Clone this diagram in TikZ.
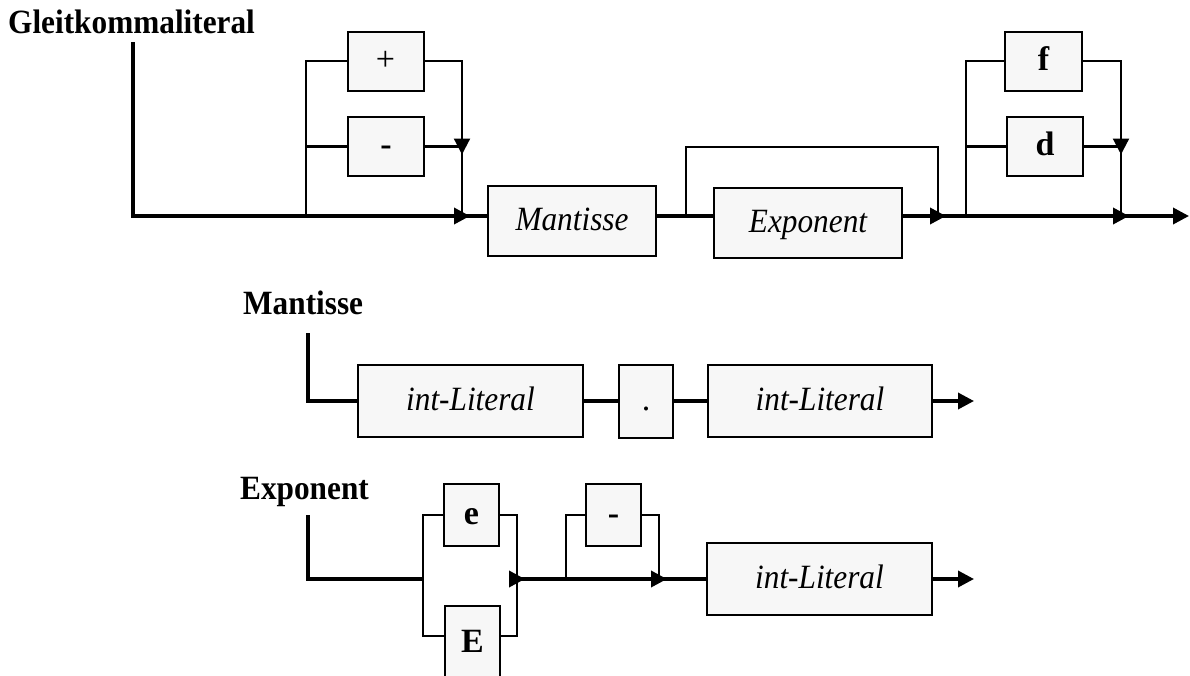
\documentclass[tikz,border=0pt]{standalone}
\usepackage{fontspec}
\setmainfont{Liberation Serif}
\usetikzlibrary{arrows.meta}
\definecolor{boxgray}{HTML}{F7F7F7}
\newcommand{\railtext}[1]{\scalebox{0.92}[1]{#1}}

\begin{document}
\begin{tikzpicture}[x=1pt,y=-1pt,
    every node/.style={font=\fontsize{34}{40}\selectfont},
    railbox/.style={rectangle, draw, fill=boxgray, line width=2pt, inner sep=0pt,
      minimum height=59pt, text height=25pt, text depth=7pt},
    ruletitle/.style={anchor=base west, inner sep=0pt, font=\fontsize{34}{40}\selectfont\bfseries},
    mainline/.style={line width=3.5pt},
    branch/.style={line width=2.2pt},
    endarrow/.style={-{Triangle[length=16pt,width=16pt]}},
    joinarrow/.style={endarrow, shorten >=-8pt}]
  \useasboundingbox (0,0) rectangle (1190,675);

  % titles
  \node[ruletitle] (tgleit) at (8,33) {\railtext{Gleitkommaliteral}};
  \node[ruletitle] (tmant) at (243,314) {\railtext{Mantisse}};
  \node[ruletitle] (texpo) at (240,499) {\railtext{Exponent}};

  % Gleitkommaliteral
  \node[railbox, minimum width=76pt] (plus) at (385.5,61) {+};
  \node[railbox, minimum width=76pt] (minusA) at (386,146.5) {\bfseries -};
  \node[railbox, minimum width=168pt, minimum height=70pt] (mant) at (572,221) {\itshape\railtext{Mantisse}};
  \node[railbox, minimum width=188pt, minimum height=70pt] (expo) at (808,223) {\itshape\railtext{Exponent}};
  \node[railbox, minimum width=77pt] (lf) at (1043.5,61) {\bfseries f};
  \node[railbox, minimum width=76pt] (ld) at (1045,146.5) {\bfseries d};

  \coordinate (gstart) at (133,42);
  \coordinate (gsplitA) at (306,216);
  \coordinate (gjoinA) at (462,216);
  \coordinate (gmidA) at (462,146.5);
  \coordinate (gsplitB) at (686,216);
  \coordinate (gtopB) at (686,147);
  \coordinate (gjoinB) at (938,216);
  \coordinate (gsplitC) at (966,216);
  \coordinate (gjoinC) at (1121,216);
  \coordinate (gmidC) at (1121,146.5);
  \coordinate (gend) at (1189,216);

  \draw[mainline] (gstart) |- (gsplitA);
  \draw[mainline, joinarrow] (gsplitA) -- (gjoinA);
  \draw[mainline] (gjoinA) -- (mant.west |- gjoinA);
  \draw[mainline] (mant.east |- gsplitB) -- (expo.west |- gsplitB);
  \draw[mainline, joinarrow] (expo.east |- gjoinB) -- (gjoinB);
  \draw[mainline, joinarrow] (gjoinB) -- (gjoinC);
  \draw[mainline, endarrow] (gjoinC) -- (gend);

  \draw[branch] (gsplitA) |- (plus.west);
  \draw[branch] (gsplitA |- minusA.west) -- (minusA.west);
  \draw[branch, joinarrow] (plus.east) -| (gmidA);
  \draw[branch] (gmidA) -- (gjoinA);
  \draw[branch] (minusA.east) -- (gmidA);

  \draw[branch] (gsplitB) -- (gtopB) -| (gjoinB);

  \draw[branch] (gsplitC) |- (lf.west);
  \draw[branch] (gsplitC |- ld.west) -- (ld.west);
  \draw[branch, joinarrow] (lf.east) -| (gmidC);
  \draw[branch] (gmidC) -- (gjoinC);
  \draw[branch] (ld.east) -- (gmidC);

  % Mantisse
  \node[railbox, minimum width=225pt, minimum height=72pt] (mintA) at (470.5,401) {\itshape\railtext{int-Literal}};
  \node[railbox, minimum width=54pt, minimum height=73pt] (mdot) at (646,401) {.};
  \node[railbox, minimum width=224pt, minimum height=72pt] (mintB) at (820,401) {\itshape\railtext{int-Literal}};
  \coordinate (mstart) at (308,333);
  \coordinate (mend) at (974,401);

  \draw[mainline] (mstart) |- (mintA.west);
  \draw[mainline] (mintA.east) -- (mdot.west);
  \draw[mainline] (mdot.east) -- (mintB.west);
  \draw[mainline, endarrow] (mintB.east) -- (mend);

  % Exponent
  \node[railbox, minimum width=55pt, minimum height=62pt] (ee) at (471.5,515) {\bfseries e};
  \node[railbox, minimum width=55pt, minimum height=75pt, anchor=north] (eE) at (472.5,605) {\bfseries E};
  \node[railbox, minimum width=55pt, minimum height=62pt] (eminus) at (613.5,515) {\bfseries -};
  \node[railbox, minimum width=225pt, minimum height=72pt] (eint) at (819.5,579) {\itshape\railtext{int-Literal}};
  \coordinate (estart) at (308,515);
  \coordinate (esplitA) at (423,579);
  \coordinate (eErow) at (423,636);
  \coordinate (ejoinA) at (517,579);
  \coordinate (esplitB) at (566,579);
  \coordinate (ejoinB) at (659,579);
  \coordinate (eend) at (974,579);

  \draw[mainline] (estart) |- (esplitA);
  \draw[branch] (esplitA) |- (ee.west);
  \draw[branch] (esplitA) -- (eErow) -- (eErow -| eE.west);
  \draw[branch] (ee.east) -| (ejoinA);
  \draw[branch] (eE.east |- eErow) -| (ejoinA);
  \draw[mainline, joinarrow] ([xshift=-8pt]ejoinA) -- (ejoinA);
  \draw[mainline] (ejoinA) -- (esplitB);
  \draw[mainline, joinarrow] (esplitB) -- (ejoinB);
  \draw[mainline] (ejoinB) -- (eint.west);
  \draw[mainline, endarrow] (eint.east) -- (eend);
  \draw[branch] (esplitB) |- (eminus.west);
  \draw[branch] (eminus.east) -| (ejoinB);
\end{tikzpicture}
\end{document}
